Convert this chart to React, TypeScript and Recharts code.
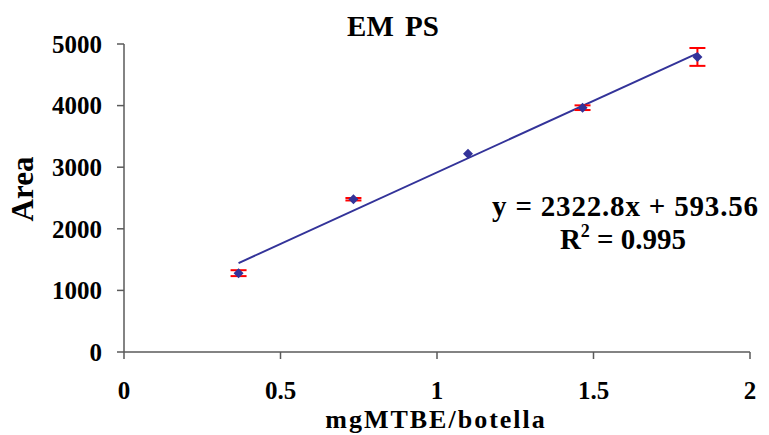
import {
  ComposedChart,
  Scatter,
  ErrorBar,
  XAxis,
  YAxis,
  ReferenceLine,
  Customized,
} from "recharts";

// calibration points: mg of MTBE per bottle vs. peak area
const conc = [0.366, 0.733, 1.099, 1.465, 1.832];
const area = [1280, 2480, 3220, 3966, 4790];
const areaErr = [48, 20, 0, 38, 145];

const xTicks = [0, 0.5, 1, 1.5, 2];
const yTicks = [0, 1000, 2000, 3000, 4000, 5000];

// linear fit reported on the chart
const slope = 2322.8;
const intercept = 593.56;
const r2 = "0.995";

const FONT = "'Liberation Serif', 'Times New Roman', serif";
const BLUE = "#333399";
const AXIS = "#5a5a5a";

const points = conc.map((c, i) => ({ x: c, y: area[i], err: areaErr[i] }));

const x0 = conc[0];
const x1 = conc[conc.length - 1];
const fitLine = [
  { x: x0, y: slope * x0 + intercept },
  { x: x1, y: slope * x1 + intercept },
];

function Diamond(props: any) {
  const { cx, cy } = props;
  const r = 5;
  return (
    <polygon
      points={`${cx},${cy - r} ${cx + r},${cy} ${cx},${cy + r} ${cx - r},${cy}`}
      fill={BLUE}
    />
  );
}

function Labels() {
  return (
    <g fontFamily={FONT} fontWeight="bold" fill="#000">
      <text x={393} y={36} fontSize={29} textAnchor="middle" wordSpacing={4}>
        EM PS
      </text>
      <text
        x={33}
        y={189}
        fontSize={31}
        textAnchor="middle"
        transform="rotate(-90 33 189)"
      >
        Area
      </text>
      <text x={436} y={428} fontSize={26} textAnchor="middle" letterSpacing={2}>
        mgMTBE/botella
      </text>
      <text
        x={625}
        y={216}
        fontSize={29}
        textAnchor="middle"
        textLength={266}
        lengthAdjust="spacing"
      >
        {`y = ${slope}x + ${intercept}`}
      </text>
      <text x={623} y={249} fontSize={29} textAnchor="middle">
        R
        <tspan fontSize={18} dy={-12}>
          2
        </tspan>
        <tspan dy={12}>{` = ${r2}`}</tspan>
      </text>
    </g>
  );
}

export default function App() {
  const tickStyle = {
    fontFamily: FONT,
    fontWeight: "bold",
    fontSize: 25,
    fill: "#000",
  };
  return (
    <div style={{ position: "absolute", left: 0, top: 0, background: "#fff" }}>
      <ComposedChart
        width={769}
        height={435}
        margin={{ top: 44, right: 19, bottom: 23, left: 0 }}
      >
        <XAxis
          type="number"
          dataKey="x"
          domain={[0, 2]}
          ticks={xTicks}
          height={60}
          tickSize={7}
          tickMargin={22}
          tick={tickStyle}
          stroke={AXIS}
          strokeWidth={1.5}
          allowDataOverflow
        />
        <YAxis
          type="number"
          dataKey="y"
          domain={[0, 5000]}
          ticks={yTicks}
          width={124}
          tickSize={7}
          tickMargin={15}
          tick={tickStyle}
          stroke={AXIS}
          strokeWidth={1.5}
          allowDataOverflow
        />
        <ReferenceLine
          segment={fitLine}
          stroke={BLUE}
          strokeWidth={2}
          ifOverflow="visible"
        />
        <Scatter data={points} shape={Diamond} isAnimationActive={false}>
          <ErrorBar
            dataKey="err"
            direction="y"
            width={8}
            stroke="#ff0000"
            strokeWidth={2}
            isAnimationActive={false}
          />
        </Scatter>
        <Customized component={Labels} />
      </ComposedChart>
    </div>
  );
}
